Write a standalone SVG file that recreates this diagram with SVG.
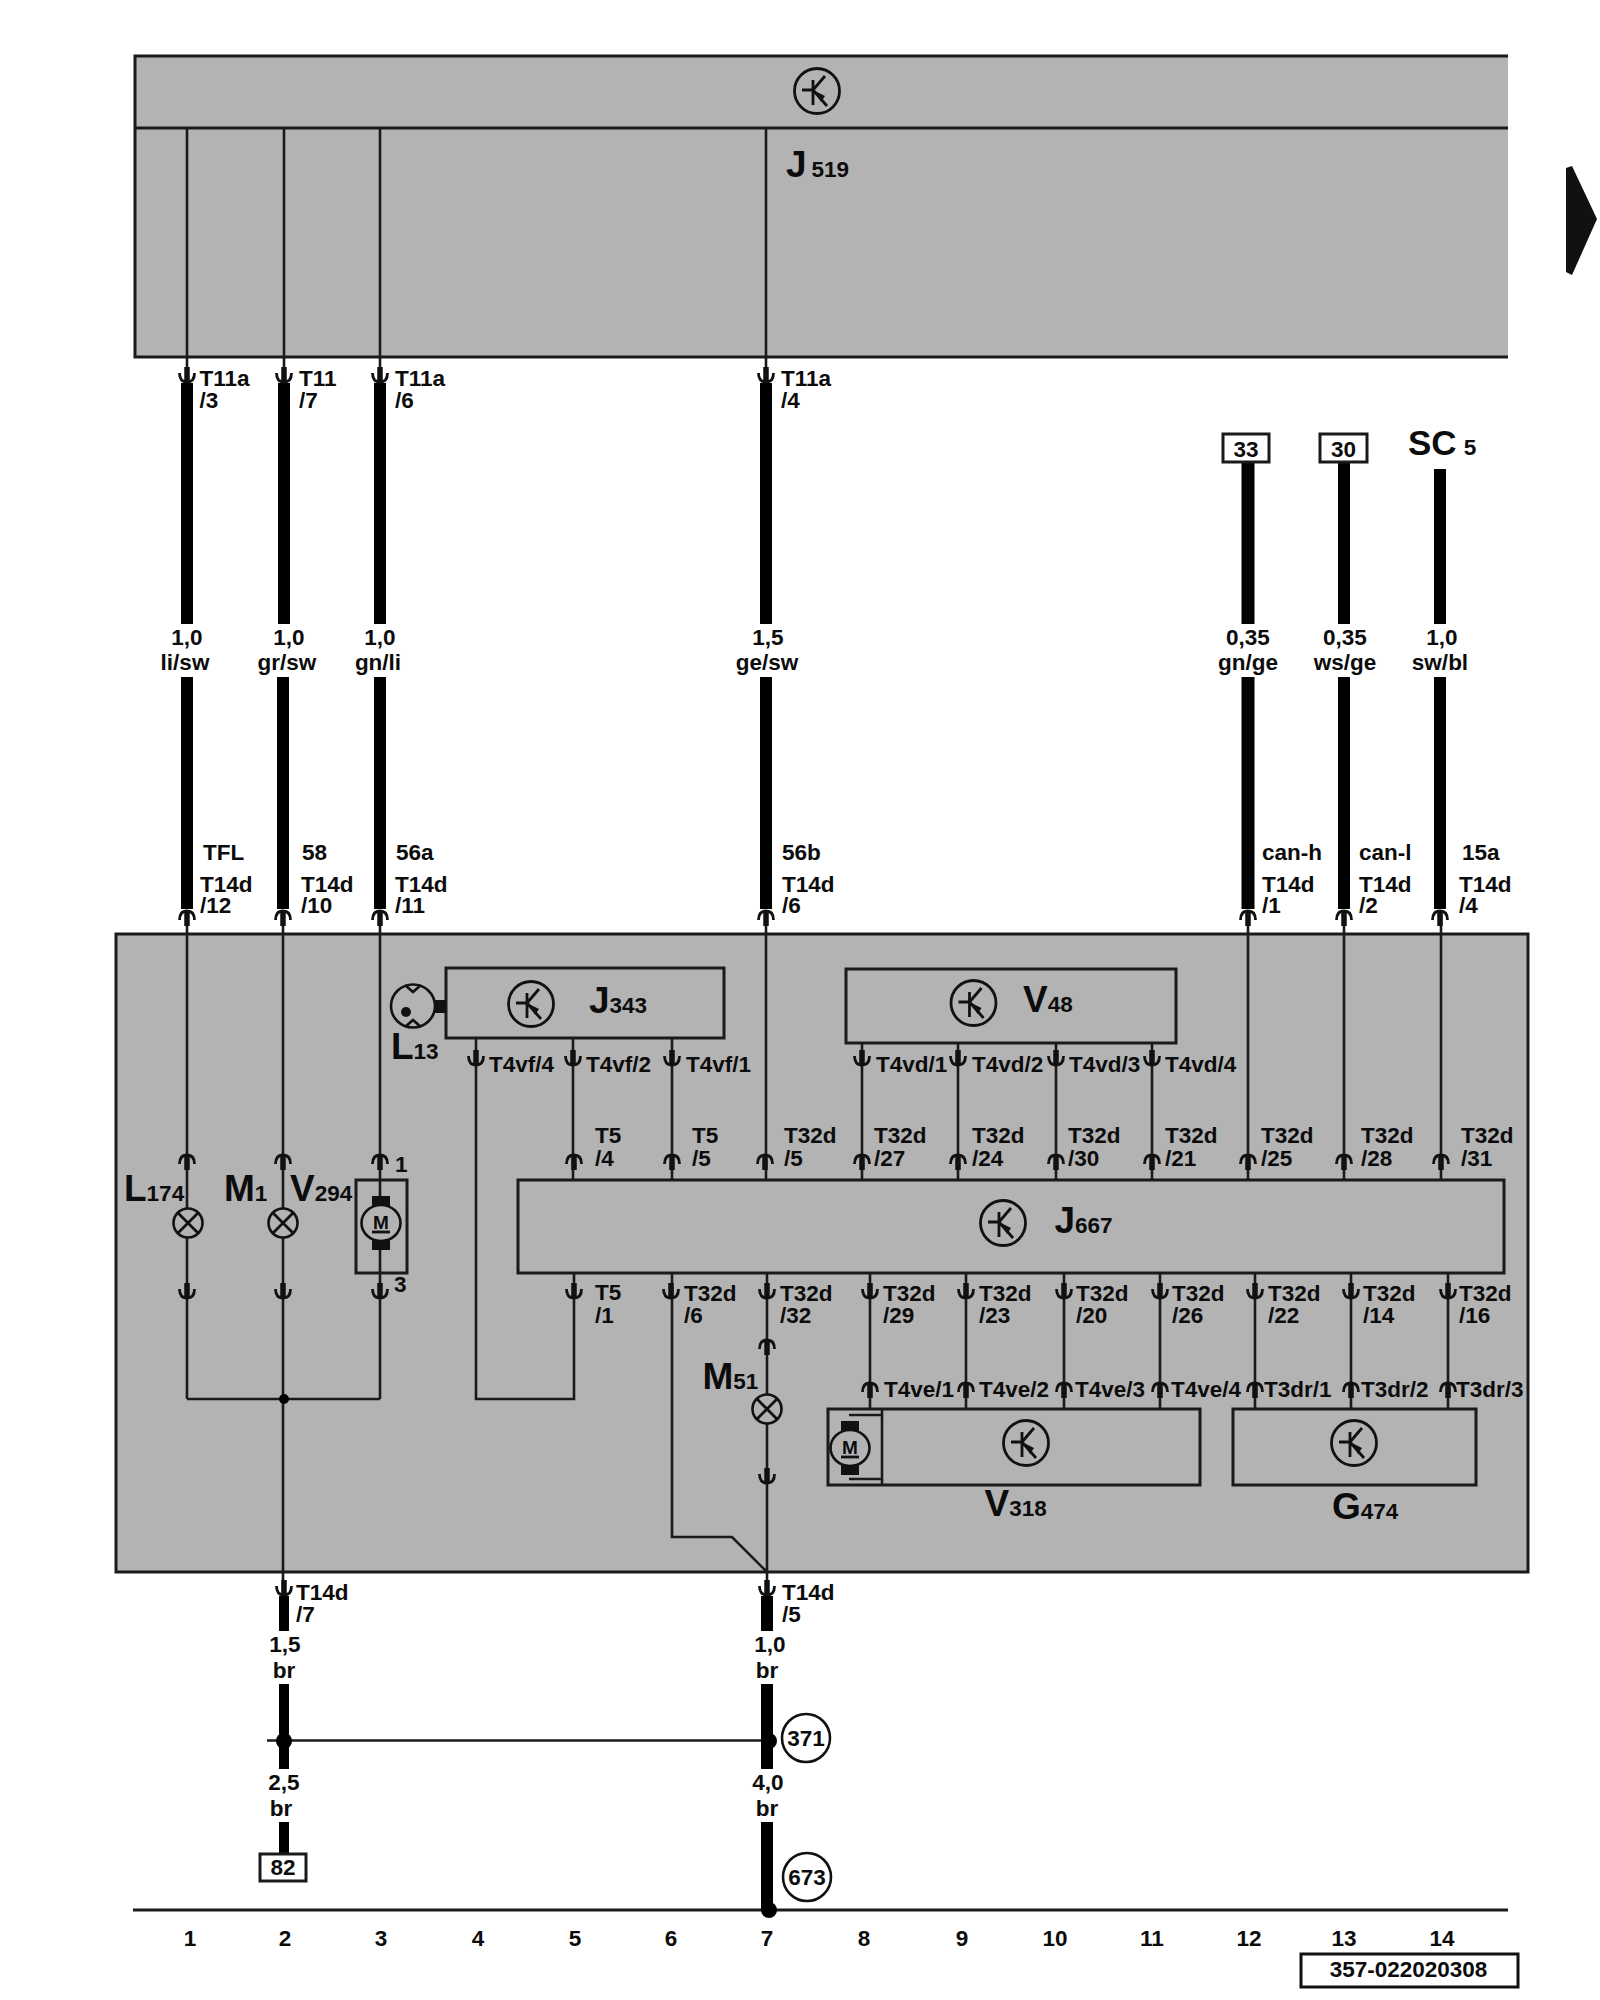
<svg xmlns="http://www.w3.org/2000/svg" xmlns:xlink="http://www.w3.org/1999/xlink" width="1600" height="2000" viewBox="0 0 1600 2000">
<style>
text{font-family:"Liberation Sans",Arial,sans-serif;font-weight:700;font-size:22.5px;fill:#0c0c0c}
.c{text-anchor:middle}
.big{font-size:37px}
.sub{font-size:22.5px}
.ln{fill:none;stroke:#1a1a1a;stroke-width:2.6}
.bx{fill:#b3b3b3;stroke:#1a1a1a;stroke-width:3}
.wb{fill:#fff;stroke:#1a1a1a;stroke-width:3}
.ol{fill:none;stroke:#1a1a1a;stroke-width:3}
.w{fill:none;stroke:#000;stroke-width:12}
.sy{fill:none;stroke:#111;stroke-width:2.8}
</style>
<defs>
<g id="cd"><path d="M-7.5,-9Q-7.5,0 0,0Q7.5,0 7.5,-9" class="sy"/><path d="M0,-15V-1" stroke="#111" stroke-width="5.5"/></g>
<g id="cu"><path d="M-7.5,9Q-7.5,0 0,0Q7.5,0 7.5,9" class="sy"/><path d="M0,1V15" stroke="#111" stroke-width="5.5"/></g>
<g id="tr"><circle r="22.5" class="sy"/><path d="M-15,-1H-3M-4,-11V14M-4,-1L8,-15M-4,-1L10,15" class="sy" stroke-width="2"/><path d="M-2,0L8,5L4,11Z" fill="#111"/></g>
<g id="lamp"><ellipse rx="14.5" ry="14.5" fill="#b3b3b3" stroke="#111" stroke-width="2.6"/><path d="M-10,-10L10,10M-10,10L10,-10" class="sy"/></g>
<g id="motor"><rect x="-9" y="-27" width="18" height="11" fill="#111"/><rect x="-9" y="17" width="18" height="10" fill="#111"/><ellipse rx="19.5" ry="18" fill="#b3b3b3" stroke="#111" stroke-width="2.6"/><path d="M-9,9H9" class="sy"/></g>
</defs>

<g id="J519-shell">
<rect x="135" y="56" width="1373" height="301" fill="#b3b3b3"/>
<path d="M1508,56H135V357H1508M135,128H1508" class="ol"/>
</g>
<rect id="main-housing" x="116" y="934" width="1412" height="638" class="bx"/>

<g id="connectors">
<path class="ln" d="M187,128V382M284,128V382M380,128V382M766,128V382M187,911V1399M283,911V1595M380,911V1399M187,1399H380M766,911V1180M476,1038V1399H574V1273M573,1038V1180M672,1038V1180M862,1043V1180M958,1043V1180M1056,1043V1180M1152,1043V1180M1248,911V1180M1344,911V1180M1441,911V1180M870,1273V1409M966,1273V1409M1064,1273V1409M1160,1273V1409M1255,1273V1409M1351,1273V1409M1448,1273V1409M767,1273V1595M672,1273V1537H732L767,1572"/>
<path class="w" d="M187,383V624M187,677V909M284,383V624M283,677V909M380,383V624M380,677V909M766,383V624M766,677V909M1344,462V624M1344,677V909M1440,469V624M1440,677V909"/>
<path class="w" style="stroke-width:13" d="M1248,462V624M1248,677V909"/>
<path class="w" style="stroke-width:10" d="M284,1596V1631M284,1684V1769M284,1822V1854"/>
<path class="w" d="M767,1596V1631M767,1684V1769M767,1822V1910"/>
<path class="ln" d="M267,1740.500H767"/>
<circle cx="284" cy="1399" r="5" fill="#000"/>
<circle cx="284" cy="1741" r="8" fill="#000"/><circle cx="769" cy="1741" r="8" fill="#000"/>
<use href="#cd" x="187" y="382"/><use href="#cd" x="284" y="382"/><use href="#cd" x="380" y="382"/><use href="#cd" x="766" y="382"/>
<use href="#cu" x="187" y="911"/><use href="#cu" x="283" y="911"/><use href="#cu" x="380" y="911"/><use href="#cu" x="766" y="911"/><use href="#cu" x="1248" y="911"/><use href="#cu" x="1344" y="911"/><use href="#cu" x="1440" y="911"/>
<use href="#cu" x="187" y="1155"/><use href="#cu" x="283" y="1155"/><use href="#cu" x="380" y="1155"/><use href="#cu" x="574" y="1155"/><use href="#cu" x="672" y="1155"/><use href="#cu" x="765" y="1155"/><use href="#cu" x="862" y="1155"/><use href="#cu" x="958" y="1155"/><use href="#cu" x="1056" y="1155"/><use href="#cu" x="1152" y="1155"/><use href="#cu" x="1248" y="1155"/><use href="#cu" x="1344" y="1155"/><use href="#cu" x="1441" y="1155"/>
<use href="#cd" x="187" y="1298"/><use href="#cd" x="283" y="1298"/><use href="#cd" x="380" y="1298"/><use href="#cd" x="574" y="1298"/><use href="#cd" x="671" y="1298"/><use href="#cd" x="767" y="1298"/><use href="#cd" x="870" y="1298"/><use href="#cd" x="966" y="1298"/><use href="#cd" x="1064" y="1298"/><use href="#cd" x="1160" y="1298"/><use href="#cd" x="1255" y="1298"/><use href="#cd" x="1351" y="1298"/><use href="#cd" x="1448" y="1298"/>
<use href="#cd" x="476" y="1065"/><use href="#cd" x="573" y="1065"/><use href="#cd" x="672" y="1065"/><use href="#cd" x="862" y="1065"/><use href="#cd" x="958" y="1065"/><use href="#cd" x="1056" y="1065"/><use href="#cd" x="1152" y="1065"/>
<use href="#cu" x="870" y="1383"/><use href="#cu" x="966" y="1383"/><use href="#cu" x="1064" y="1383"/><use href="#cu" x="1160" y="1383"/><use href="#cu" x="1255" y="1383"/><use href="#cu" x="1351" y="1383"/><use href="#cu" x="1448" y="1383"/>
<use href="#cu" x="767" y="1340"/><use href="#cd" x="767" y="1483"/>
<use href="#cd" x="284" y="1595"/><use href="#cd" x="767" y="1595"/>
</g>

<g id="J519"><use href="#tr" x="817" y="91"/><text x="786" y="177" class="big">J<tspan class="sub" dx="5">519</tspan></text></g>
<g id="J343"><rect x="446" y="968" width="278" height="70" class="bx"/><use href="#tr" x="531" y="1004"/><text x="589" y="1013" class="big">J<tspan class="sub">343</tspan></text></g>
<g id="L13"><rect x="435" y="1000" width="11" height="13" fill="#111"/><ellipse cx="413" cy="1006" rx="22" ry="21.500" fill="#b3b3b3" stroke="#111" stroke-width="2.6"/><path d="M405,985L413,992L421,985M405,1027L413,1020L421,1027" class="sy"/><circle cx="406" cy="1012" r="5" fill="#111"/><text x="391" y="1059" class="big">L<tspan class="sub">13</tspan></text></g>
<g id="V48"><rect x="846" y="969" width="330" height="74" class="bx"/><use href="#tr" x="973.500" y="1003"/><text x="1023" y="1012" class="big">V<tspan class="sub">48</tspan></text></g>
<g id="J667"><rect x="518" y="1180" width="986" height="93" class="bx"/><use href="#tr" x="1003" y="1223"/><text x="1054.500" y="1233" class="big">J<tspan class="sub">667</tspan></text></g>
<g id="L174"><use href="#lamp" x="188" y="1223"/><text x="124" y="1201" class="big">L<tspan class="sub">174</tspan></text></g>
<g id="M1"><use href="#lamp" x="283" y="1223"/><text x="224" y="1201" class="big">M<tspan class="sub">1</tspan></text></g>
<g id="V294"><rect x="356" y="1180" width="51" height="93" class="ol"/><use href="#motor" x="381" y="1223"/><text x="381" y="1229" class="c" style="font-size:19px">M</text><text x="290" y="1201" class="big">V<tspan class="sub">294</tspan></text><text x="395" y="1172">1</text><text x="394" y="1292">3</text></g>
<g id="M51"><use href="#lamp" x="767" y="1409"/><text x="702.500" y="1389" class="big">M<tspan class="sub">51</tspan></text></g>
<g id="V318"><rect x="828" y="1409" width="372" height="76" class="bx"/><path d="M882,1409V1485M849,1415H882M849,1479H882" class="ln"/><use href="#motor" x="850" y="1448"/><text x="850" y="1454" class="c" style="font-size:19px">M</text><use href="#tr" x="1026" y="1443"/><text x="984.500" y="1516" class="big">V<tspan class="sub">318</tspan></text></g>
<g id="G474"><rect x="1233" y="1409" width="243" height="76" class="bx"/><use href="#tr" x="1354" y="1443"/><text x="1332" y="1519" class="big">G<tspan class="sub">474</tspan></text></g>
<g id="term33"><rect x="1223" y="434" width="46" height="28" class="wb"/><text x="1246" y="457" class="c">33</text></g>
<g id="term30"><rect x="1320" y="434" width="47" height="28" class="wb"/><text x="1343.500" y="457" class="c">30</text></g>
<g id="SC5"><text x="1408" y="455" style="font-size:35px">SC<tspan class="sub" dx="7">5</tspan></text></g>
<g id="term82"><rect x="260" y="1854" width="46" height="27" class="wb"/><text x="283" y="1875" class="c">82</text></g>
<g id="ref371"><circle cx="806" cy="1738" r="24" fill="#fff" stroke="#111" stroke-width="2.600"/><text x="806" y="1746" class="c">371</text></g>
<g id="ref673"><circle cx="807" cy="1877" r="24" fill="#fff" stroke="#111" stroke-width="2.600"/><text x="807" y="1885" class="c">673</text></g>
<g id="ground"><path d="M133,1910H1508" class="ol"/><circle cx="769" cy="1910" r="8" fill="#000"/></g>
<g id="next-arrow"><path d="M1573,166L1567,168V272L1573,275L1598,219Z" fill="#111" transform="translate(-1 0)"/></g>
<g id="doc-ref"><rect x="1306" y="1954" width="217" height="33" fill="#fff" stroke="#111" stroke-width="3" transform="translate(-5 0)"/><text x="1408.500" y="1977" class="c">357-022020308</text></g>

<g id="labels">
<text x="199.500" y="386">T11a</text><text x="199.500" y="408">/3</text>
<text x="299" y="386">T11</text><text x="299" y="408">/7</text>
<text x="395" y="386">T11a</text><text x="395" y="408">/6</text>
<text x="781" y="386">T11a</text><text x="781" y="408">/4</text>
<text x="187" y="645" class="c">1,0</text><text x="185" y="670" class="c">li/sw</text>
<text x="289" y="645" class="c">1,0</text><text x="287" y="670" class="c">gr/sw</text>
<text x="380" y="645" class="c">1,0</text><text x="378" y="670" class="c">gn/li</text>
<text x="768" y="645" class="c">1,5</text><text x="767" y="670" class="c">ge/sw</text>
<text x="1248" y="645" class="c">0,35</text><text x="1248" y="670" class="c">gn/ge</text>
<text x="1345" y="645" class="c">0,35</text><text x="1345" y="670" class="c">ws/ge</text>
<text x="1442" y="645" class="c">1,0</text><text x="1440" y="670" class="c">sw/bl</text>
<text x="203" y="860">TFL</text><text x="302" y="860">58</text><text x="396" y="860">56a</text><text x="782" y="860">56b</text><text x="1262" y="860">can-h</text><text x="1359" y="860">can-l</text><text x="1462" y="860">15a</text>
<text x="200" y="892">T14d</text><text x="200" y="913">/12</text>
<text x="301" y="892">T14d</text><text x="301" y="913">/10</text>
<text x="395" y="892">T14d</text><text x="395" y="913">/11</text>
<text x="782" y="892">T14d</text><text x="782" y="913">/6</text>
<text x="1262" y="892">T14d</text><text x="1262" y="913">/1</text>
<text x="1359" y="892">T14d</text><text x="1359" y="913">/2</text>
<text x="1459" y="892">T14d</text><text x="1459" y="913">/4</text>
<text x="489" y="1072">T4vf/4</text><text x="586" y="1072">T4vf/2</text><text x="686" y="1072">T4vf/1</text>
<text x="876" y="1072">T4vd/1</text><text x="972" y="1072">T4vd/2</text><text x="1069" y="1072">T4vd/3</text><text x="1165" y="1072">T4vd/4</text>
<text x="595" y="1143">T5</text><text x="595" y="1166">/4</text>
<text x="692" y="1143">T5</text><text x="692" y="1166">/5</text>
<text x="784" y="1143">T32d</text><text x="784" y="1166">/5</text>
<text x="874" y="1143">T32d</text><text x="874" y="1166">/27</text>
<text x="972" y="1143">T32d</text><text x="972" y="1166">/24</text>
<text x="1068" y="1143">T32d</text><text x="1068" y="1166">/30</text>
<text x="1165" y="1143">T32d</text><text x="1165" y="1166">/21</text>
<text x="1261" y="1143">T32d</text><text x="1261" y="1166">/25</text>
<text x="1361" y="1143">T32d</text><text x="1361" y="1166">/28</text>
<text x="1461" y="1143">T32d</text><text x="1461" y="1166">/31</text>
<text x="595" y="1300">T5</text><text x="595" y="1323">/1</text>
<text x="684" y="1301">T32d</text><text x="684" y="1323">/6</text>
<text x="780" y="1301">T32d</text><text x="780" y="1323">/32</text>
<text x="883" y="1301">T32d</text><text x="883" y="1323">/29</text>
<text x="979" y="1301">T32d</text><text x="979" y="1323">/23</text>
<text x="1076" y="1301">T32d</text><text x="1076" y="1323">/20</text>
<text x="1172" y="1301">T32d</text><text x="1172" y="1323">/26</text>
<text x="1268" y="1301">T32d</text><text x="1268" y="1323">/22</text>
<text x="1363" y="1301">T32d</text><text x="1363" y="1323">/14</text>
<text x="1459" y="1301">T32d</text><text x="1459" y="1323">/16</text>
<text x="884" y="1397">T4ve/1</text><text x="979" y="1397">T4ve/2</text><text x="1075" y="1397">T4ve/3</text><text x="1171" y="1397">T4ve/4</text>
<text x="1264" y="1397">T3dr/1</text><text x="1361" y="1397">T3dr/2</text><text x="1456" y="1397">T3dr/3</text>
<text x="296" y="1600">T14d</text><text x="296" y="1622">/7</text>
<text x="782" y="1600">T14d</text><text x="782" y="1622">/5</text>
<text x="285" y="1652" class="c">1,5</text><text x="284" y="1678" class="c">br</text>
<text x="770" y="1652" class="c">1,0</text><text x="767" y="1678" class="c">br</text>
<text x="284" y="1790" class="c">2,5</text><text x="281" y="1816" class="c">br</text>
<text x="768" y="1790" class="c">4,0</text><text x="767" y="1816" class="c">br</text>
</g>
<g id="grid-numbers">
<text x="190" y="1946" class="c">1</text><text x="285" y="1946" class="c">2</text><text x="381" y="1946" class="c">3</text><text x="478" y="1946" class="c">4</text><text x="575" y="1946" class="c">5</text><text x="671" y="1946" class="c">6</text><text x="767" y="1946" class="c">7</text><text x="864" y="1946" class="c">8</text><text x="962" y="1946" class="c">9</text><text x="1055" y="1946" class="c">10</text><text x="1152" y="1946" class="c">11</text><text x="1249" y="1946" class="c">12</text><text x="1344" y="1946" class="c">13</text><text x="1442" y="1946" class="c">14</text>
</g>
</svg>
